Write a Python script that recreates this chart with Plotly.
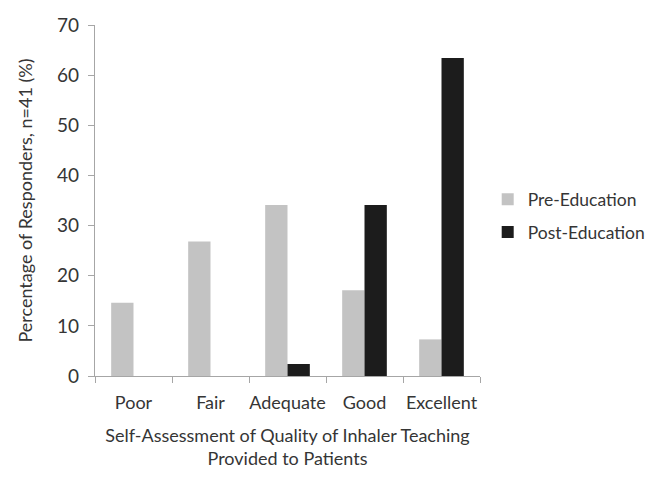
import plotly.graph_objects as go

categories = ["Poor", "Fair", "Adequate", "Good", "Excellent"]
pre_education = [14.6, 26.8, 34.1, 17.1, 7.3]
post_education = [0, 0, 2.4, 34.1, 63.4]
y_ticks = [0, 10, 20, 30, 40, 50, 60, 70]

FONT = "Lato"
TXT = "#353535"
AX = "#a6a6a6"

fig = go.Figure()
fig.add_trace(go.Bar(name="Pre-Education", x=categories, y=pre_education,
                     legendgroup="pre",
                     marker=dict(color="#c3c3c3", line=dict(width=0))))
fig.add_trace(go.Bar(name="Post-Education", x=categories, y=post_education,
                     legendgroup="post",
                     marker=dict(color="#1c1c1c", line=dict(width=0))))

fig.update_layout(
    width=649, height=478,
    margin=dict(l=87, r=177, t=17, b=110, autoexpand=False),
    paper_bgcolor="white", plot_bgcolor="white",
    barmode="group", bargap=0.42, bargroupgap=0,
    font=dict(family=FONT, size=17, color=TXT),
    showlegend=True,
    legend=dict(x=1.02, y=0.456, xanchor="left", yanchor="middle",
                traceorder="grouped", tracegroupgap=7,
                font=dict(family=FONT, size=17.5, color=TXT),
                itemwidth=30, bgcolor="rgba(0,0,0,0)"),
    xaxis=dict(
        type="category", showgrid=False, zeroline=False,
        showline=True, linecolor=AX, linewidth=1.2,
        ticks="outside", tickson="boundaries", ticklen=6, tickcolor=AX, tickwidth=1.2,
        tickangle=0, automargin=False, ticklabelstandoff=10,
        tickfont=dict(family=FONT, size=18, color=TXT),
        title=dict(text="Self-Assessment of Quality of Inhaler Teaching<br>Provided to Patients",
                   font=dict(family=FONT, size=18, color=TXT), standoff=17),
    ),
    yaxis=dict(
        range=[0, 70], tickvals=y_ticks, showgrid=False, zeroline=False,
        showline=True, linecolor=AX, linewidth=1.2,
        ticks="outside", ticklen=6, tickcolor=AX, tickwidth=1.2, automargin=False,
        ticklabelstandoff=5,
        tickfont=dict(family=FONT, size=19, color=TXT),
        title=dict(text="Percentage of Responders, n=41 (%)",
                   font=dict(family=FONT, size=18, color=TXT), standoff=19),
    ),
)

fig.write_html("out.html")
